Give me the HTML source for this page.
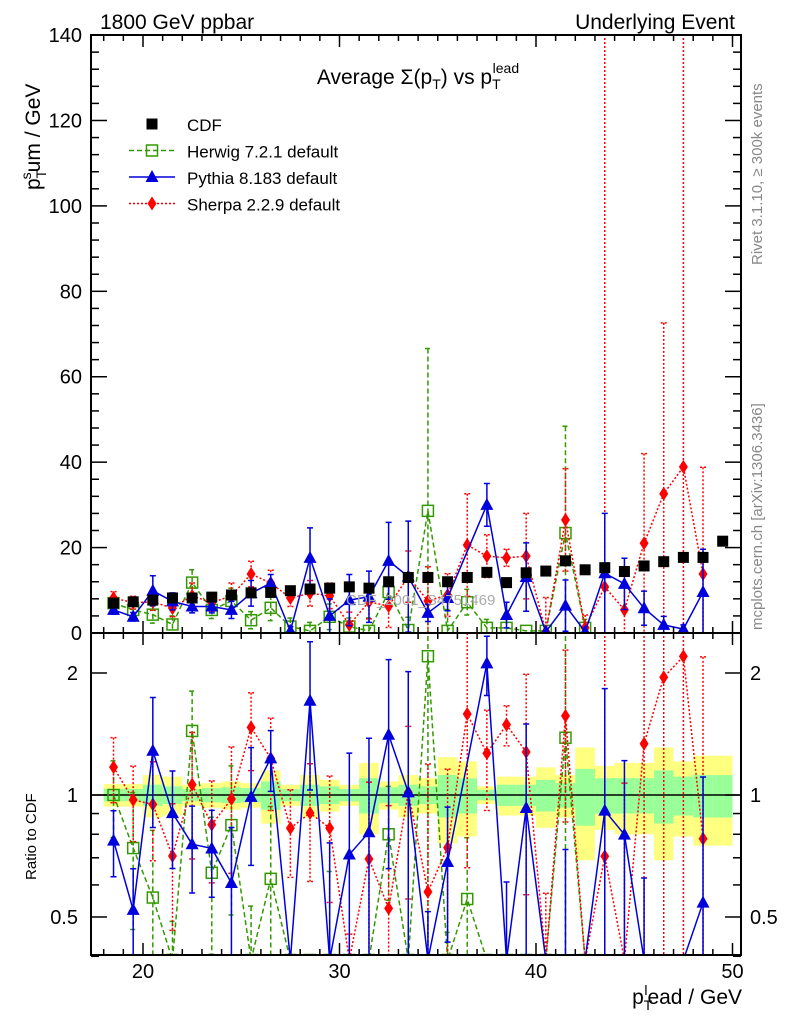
<!DOCTYPE html>
<html><head><meta charset="utf-8"><style>
html,body{margin:0;padding:0;background:#fff;overflow:hidden;width:786px;height:1024px;}
svg{display:block;font-family:"Liberation Sans",sans-serif;}
</style></head><body>
<svg id="chart" width="786" height="1024" viewBox="0 0 786 1024" xmlns="http://www.w3.org/2000/svg">
<defs>
<clipPath id="cm"><rect x="91" y="35" width="650" height="598"/></clipPath>
<clipPath id="cr"><rect x="91" y="633" width="650" height="322"/></clipPath>
</defs>
<g id="bands" clip-path="url(#cr)"></g>
<g id="plots"></g>
<g id="axes"></g>
<text x="100" y="29" font-size="21">1800 GeV ppbar</text>
<text x="735" y="29" font-size="21" text-anchor="end">Underlying Event</text>
<text x="418" y="84" font-size="21" text-anchor="middle">Average Σ(p<tspan font-size="14" dy="5">T</tspan><tspan dy="-5">) vs p</tspan><tspan font-size="14" dy="5">T</tspan><tspan font-size="14" dx="-8" dy="-16">lead</tspan></text>
<text x="346" y="605" font-size="15" fill="#aaa">CDF_2001_S4751469</text>
<text transform="translate(762,265) rotate(-90)" font-size="15" fill="#888">Rivet 3.1.10, ≥ 300k events</text>
<text transform="translate(762,630) rotate(-90)" font-size="15" fill="#888">mcplots.cern.ch [arXiv:1306.3436]</text>
<text transform="translate(40,190) rotate(-90)" font-size="21">p<tspan font-size="14" dy="6">T</tspan><tspan font-size="14" dx="-8" dy="-15">s</tspan><tspan dy="9">um / GeV</tspan></text>
<text transform="translate(36,880) rotate(-90)" font-size="15">Ratio to CDF</text>
<text x="742" y="1004" font-size="21" text-anchor="end">p<tspan font-size="14" dy="6">T</tspan><tspan font-size="14" dx="-8" dy="-15">l</tspan><tspan dy="9">ead / GeV</tspan></text>
<g id="legend"></g>
</svg>
<script>
const xBins = [18.5,19.5,20.5,21.5,22.5,23.5,24.5,25.5,26.5,27.5,28.5,29.5,30.5,31.5,32.5,33.5,34.5,35.5,36.5,37.5,38.5,39.5,40.5,41.5,42.5,43.5,44.5,45.5,46.5,47.5,48.5,49.5];
const cdfVals = [7.0,7.3,7.7,8.2,8.2,8.4,8.9,9.4,9.5,9.9,10.3,10.5,10.8,10.5,12,13,13,12,13,14.2,11.8,14.1,14.5,16.9,14.8,15.3,14.4,15.7,16.7,17.7,17.7,21.5];
const herwigVals = [7.0,5.4,4.3,2.0,11.8,5.4,7.5,3.0,5.9,1.5,0.5,3.8,1.5,0.5,9.6,0.7,28.6,0.5,7.2,1.2,1.2,0.5,0.5,23.4,1.2,null,null,null,null,null,null,null];
const herwigErr = [1.5,2,2,2,3,2,3,2,3,2,2,3,2,3,3,3,38,5,3,2,2,0,0,25,2,null,null,null,null,null,null,null];
const pythiaVals = [5.4,3.8,9.9,7.4,6.2,6.2,5.4,9.3,11.7,0.5,17.6,4.0,7.7,8.5,16.9,13.2,4.7,8.2,null,30,4.2,13.1,0.3,6.4,0.3,14,11.5,5.8,1.9,0.9,9.6,null];
const pythiaErr = [1,1,3.5,2,1.5,1.5,2,3,2,1,7,4,6,6,9,13,2,3,null,5,3,8,0,6,0,14,6,4,2,1,10,null];
const sherpaVals = [8.2,7.1,7.3,5.8,8.7,7.1,8.7,13.8,11.7,8.2,9.3,8.7,1.9,7.3,6.3,13.2,7.5,8.9,20.6,18,17.6,18,0.3,26.5,1.2,10.8,5.4,21,32.6,38.9,13.8,null];
const sherpaErr = [1.5,1.5,2,2,3,2,3,3,3,2,3,3,3,4,5,6,8,5,12,5,2,10,8,12,3,200,10,21,40,200,25,null];
const bandTotal = [0.064,0.064,0.12,0.11,0.06,0.07,0.08,0.07,0.15,0.06,0.12,0.09,0.06,0.2,0.08,0.12,0.1,0.24,0.21,0.05,0.11,0.11,0.17,0.12,0.31,0.18,0.2,0.2,0.31,0.21,0.25,0.25];
const bandStat = [0.035,0.035,0.06,0.05,0.035,0.04,0.045,0.04,0.08,0.035,0.06,0.05,0.035,0.1,0.045,0.06,0.05,0.12,0.1,0.03,0.06,0.06,0.09,0.07,0.16,0.1,0.1,0.1,0.15,0.11,0.12,0.12];
const yTicks = [0,20,40,60,80,100,120,140];
const rTicks = [0.5,1,2];
const xTicks = [20,30,40,50];

const NS="http://www.w3.org/2000/svg";
const clamp=(v,a,b)=>Math.min(b,Math.max(a,v));
const X = v => 143 + (v-20)*19.65;
const Y = v => clamp(633 - v*4.271, 30, 640);
const R = r => clamp(795 - Math.log2(r)*122, 628, 960);
function mk(tag, attrs, parent){const e=document.createElementNS(NS,tag);for(const k in attrs)e.setAttribute(k,attrs[k]);parent.appendChild(e);return e;}
const bands=document.getElementById('bands'), plots=document.getElementById('plots'), axes=document.getElementById('axes'), legend=document.getElementById('legend');

xBins.forEach((x,i)=>{
  const y1=mk('rect',{x:X(x-0.5),y:R(1+bandTotal[i]),width:19.65,height:R(1-bandTotal[i])-R(1+bandTotal[i]),fill:'#ffff80'},bands);
  
  
  const g1=mk('rect',{x:X(x-0.5),y:R(1+bandStat[i]),width:19.65,height:R(1-bandStat[i])-R(1+bandStat[i]),fill:'#99ff99'},bands);
  
  
});
const one=mk('line',{x1:91,x2:741,y1:R(1),y2:R(1),stroke:'#000','stroke-width':1.5},bands);



function marker(type,cx,cy,color,parent){
  let m;
  if(type==='sq') m=mk('rect',{x:cx-5.5,y:cy-5.5,width:11,height:11,fill:'none',stroke:color,'stroke-width':1.5},parent);
  else if(type==='tri') m=mk('polygon',{points:`${cx},${cy-7} ${cx-6.5},${cy+5} ${cx+6.5},${cy+5}`,fill:color},parent);
  else if(type==='dia') m=mk('polygon',{points:`${cx},${cy-7} ${cx-4.5},${cy} ${cx},${cy+7} ${cx+4.5},${cy}`,fill:color},parent);
  else m=mk('rect',{x:cx-5.5,y:cy-5.5,width:11,height:11,fill:color},parent);
  return m;
}
function series(name,vals,errs,color,dash,type){
  [['cm',v=>Y(v),(v,e)=>[Y(v+e),Y(Math.max(v-e,0))]],['cr',(v,i)=>R(v/cdfVals[i]),(v,e,i)=>[R((v+e)/cdfVals[i]),R(Math.max(v-e,0.01)/cdfVals[i])]]].forEach(([clip,fy,fe])=>{
    const g=mk('g',{'clip-path':`url(#${clip})`},plots);
    
    
    let pts=[];
    vals.forEach((v,i)=>{ if(v==null) return; pts.push(`${X(xBins[i])},${fy(Math.max(v,0.01),i)}`); });
    const pl=mk('polyline',{points:pts.join(' '),fill:'none',stroke:color,'stroke-width':1.5,'stroke-dasharray':dash},g);
    
    
    vals.forEach((v,i)=>{
      if(v==null) return;
      const cx=X(xBins[i]);
      if(errs[i]){
        const [a,b]=fe(v,errs[i],i);
        const el=mk('path',{d:`M${cx},${a}V${b}M${cx-3},${a}H${cx+3}M${cx-3},${b}H${cx+3}`,stroke:color,'stroke-width':1.5,fill:'none','stroke-dasharray':dash},g);
        
        
      }
      const m=marker(type,cx,fy(Math.max(v,0.01),i),color,g);
      
      
    });
  });
}
series('herwig',herwigVals,herwigErr,'#339900','5,3','sq');
series('sherpa',sherpaVals,sherpaErr,'#ff0000','2,2','dia');
series('pythia',pythiaVals,pythiaErr,'#0000dd','','tri');
const cg=mk('g',{'clip-path':'url(#cm)'},plots);


cdfVals.forEach((v,i)=>{const m=marker('fill',X(xBins[i]),Y(v),'#000',cg);
  
  });

[[35,633],[633,955]].forEach(([t,b])=>{
  const f=mk('rect',{x:91,y:t,width:650,height:b-t,fill:'none',stroke:'#000','stroke-width':2},axes);
  
  
  for(let v=18;v<=50;v++){
    const L=(v%10===0)?12:6;
    mk('line',{x1:X(v),x2:X(v),y1:b,y2:b-L,stroke:'#000','stroke-width':1.5},axes);
    mk('line',{x1:X(v),x2:X(v),y1:t,y2:t+L,stroke:'#000','stroke-width':1.5},axes);
  }
});
for(let v=0;v<=140;v+=4){
  const L=(v%20===0)?16:8;
  mk('line',{x1:91,x2:91+L,y1:Y(v),y2:Y(v),stroke:'#000','stroke-width':1.5},axes);
  mk('line',{x1:741,x2:741-L,y1:Y(v),y2:Y(v),stroke:'#000','stroke-width':1.5},axes);
}
yTicks.forEach(v=>{const t=mk('text',{x:82,y:Y(v)+7,'font-size':20,'text-anchor':'end'},axes);t.textContent=v;
  
  });
[0.4,0.5,0.6,0.7,0.8,0.9,1,2].forEach(r=>{const L=(r===0.5||r===1||r===2)?16:8;
  mk('line',{x1:91,x2:91+L,y1:R(r),y2:R(r),stroke:'#000','stroke-width':1.5},axes);
  mk('line',{x1:741,x2:741-L,y1:R(r),y2:R(r),stroke:'#000','stroke-width':1.5},axes);});
rTicks.forEach(r=>{
  const t=mk('text',{x:78,y:R(r)+7,'font-size':20,'text-anchor':'end'},axes);t.textContent=r;
  
  
  const t2=mk('text',{x:750,y:R(r)+7,'font-size':20},axes);t2.textContent=r;
  
  });
xTicks.forEach(v=>{const t=mk('text',{x:X(v),y:978,'font-size':20,'text-anchor':'middle'},axes);t.textContent=v;
  
  });

const entries=[['CDF','#000','','fill',false],['Herwig 7.2.1 default','#339900','5,3','sq',true],['Pythia 8.183 default','#0000dd','','tri',true],['Sherpa 2.2.9 default','#ff0000','2,2','dia',true]];
entries.forEach((e,i)=>{
  const y=124+i*26.5;
  const g=mk('g',{},legend);
  
  
  if(e[4]) mk('line',{x1:129,x2:175,y1:y,y2:y,stroke:e[1],'stroke-width':1.5,'stroke-dasharray':e[2]},g);
  marker(e[3],152,y,e[1],g);
  const t=mk('text',{x:187,y:y+7,'font-size':17},g);t.textContent=e[0];
});
</script>
</body></html>
